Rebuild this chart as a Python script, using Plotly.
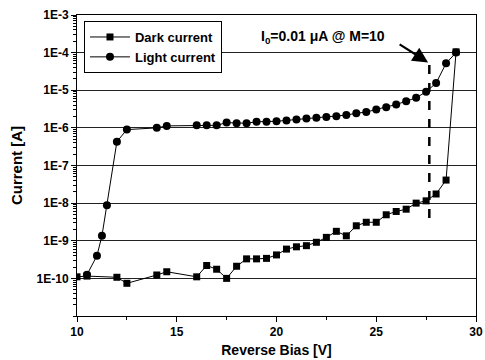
import plotly.graph_objects as go
import math

dark_v = [10.0, 10.5, 12.0, 12.5, 14.0, 14.5, 16.0, 16.5, 17.0, 17.5, 18.0, 18.5, 19.0, 19.5,
          20.0, 20.5, 21.0, 21.5, 22.0, 22.5, 23.0, 23.5, 24.0, 24.5, 25.0, 25.5, 26.0, 26.5,
          27.0, 27.5, 28.0, 28.5, 29.0]
dark_i = [1.1e-10, 1.15e-10, 1.07e-10, 7.4e-11, 1.23e-10, 1.5e-10, 1.1e-10, 2.2e-10, 1.75e-10,
          1.0e-10, 2.1e-10, 3.3e-10, 3.3e-10, 3.4e-10, 4.2e-10, 6.0e-10, 6.9e-10, 7.4e-10,
          9.1e-10, 1.23e-9, 1.78e-9, 1.35e-9, 2.5e-9, 3.1e-9, 3.1e-9, 4.9e-9, 6.0e-9, 6.9e-9,
          1.0e-8, 1.15e-8, 1.75e-8, 4.1e-8, 1.05e-4]

light_v = [10.5, 11.0, 11.25, 11.5, 12.0, 12.5, 14.0, 14.5, 16.0, 16.5, 17.0, 17.5, 18.0, 18.5,
           19.0, 19.5, 20.0, 20.5, 21.0, 21.5, 22.0, 22.5, 23.0, 23.5, 24.0, 24.5, 25.0, 25.5,
           26.0, 26.5, 27.0, 27.5, 28.0, 28.5, 29.0]
light_i = [1.25e-10, 4.0e-10, 1.35e-9, 8.8e-9, 4.3e-7, 9.0e-7, 1.0e-6, 1.13e-6, 1.17e-6, 1.17e-6,
           1.17e-6, 1.38e-6, 1.33e-6, 1.33e-6, 1.45e-6, 1.45e-6, 1.5e-6, 1.58e-6, 1.66e-6,
           1.78e-6, 1.86e-6, 1.95e-6, 2.04e-6, 2.19e-6, 2.45e-6, 2.63e-6, 3.09e-6, 3.55e-6,
           4.17e-6, 5.13e-6, 6.3e-6, 9.1e-6, 1.55e-5, 5.2e-5, 1.0e-4]

y_tickvals = [1e-10, 1e-9, 1e-8, 1e-7, 1e-6, 1e-5, 1e-4, 1e-3]
y_ticktext = ["1E-10", "1E-9", "1E-8", "1E-7", "1E-6", "1E-5", "1E-4", "1E-3"]
x_tickvals = [10, 15, 20, 25, 30]

marker_v = [27.66, 27.66]
marker_i = [4.0e-9, 6.0e-5]

FONT = "Arial, Liberation Sans, sans-serif"

fig = go.Figure()
fig.add_trace(go.Scatter(
    x=dark_v, y=dark_i, mode="lines+markers", name="Dark current",
    line=dict(color="black", width=1),
    marker=dict(symbol="square", size=7, color="black"),
))
fig.add_trace(go.Scatter(
    x=light_v, y=light_i, mode="lines+markers", name="Light current",
    line=dict(color="black", width=1),
    marker=dict(symbol="circle", size=8, color="black"),
))
fig.add_trace(go.Scatter(
    x=marker_v, y=marker_i, mode="lines", showlegend=False, hoverinfo="skip",
    line=dict(color="black", width=2.5, dash="dash"),
))

fig.add_annotation(x=22.33, y=-3.585, xref="x", yref="y",
                   text="I<sub>0</sub>=0.01 μA @ M=10", showarrow=False,
                   font=dict(family=FONT, size=14, color="black", weight="bold"))
fig.add_annotation(x=27.6, y=math.log10(5.5e-5), xref="x", yref="y",
                   ax=-30, ay=-19, text="", showarrow=True,
                   arrowhead=2, arrowsize=1.4, arrowwidth=2.2, arrowcolor="black")

fig.update_layout(
    width=485, height=360,
    margin=dict(l=77, r=9, t=15, b=44),
    paper_bgcolor="white", plot_bgcolor="white",
    font=dict(family=FONT, size=12, color="black", weight="bold"),
    showlegend=True,
    legend=dict(x=0.0175, y=0.98, xanchor="left", yanchor="top",
                bordercolor="black", borderwidth=1, bgcolor="white",
                font=dict(family=FONT, size=13, color="black", weight="bold"),
                tracegroupgap=0, itemwidth=40),
)
fig.update_xaxes(
    range=[10, 30], tickvals=x_tickvals, ticks="outside", ticklen=5, tickwidth=1,
    tickcolor="black", showline=True, linecolor="black", linewidth=1, mirror=True,
    showgrid=False, zeroline=False, automargin=False,
    minor=dict(tickvals=[12.5, 17.5, 22.5, 27.5], ticks="outside", ticklen=3, tickcolor="black"),
    title=dict(text="Reverse Bias [V]", font=dict(family=FONT, size=14, weight="bold"), standoff=6),
    tickfont=dict(family=FONT, size=12, weight="bold"),
)
fig.update_yaxes(
    type="log", range=[-11, -3], tickvals=y_tickvals, ticktext=y_ticktext,
    ticks="outside", ticklen=5, tickwidth=1, tickcolor="black",
    showline=True, linecolor="black", linewidth=1, mirror=True,
    showgrid=True, gridcolor="#222", gridwidth=1, zeroline=False, automargin=False,
    minor=dict(dtick="D1", ticks="outside", ticklen=3, tickcolor="black", showgrid=False),
    title=dict(text="Current [A]", font=dict(family=FONT, size=15, weight="bold"), standoff=10),
    tickfont=dict(family=FONT, size=12, weight="bold"),
)

fig.write_html("out.html")
